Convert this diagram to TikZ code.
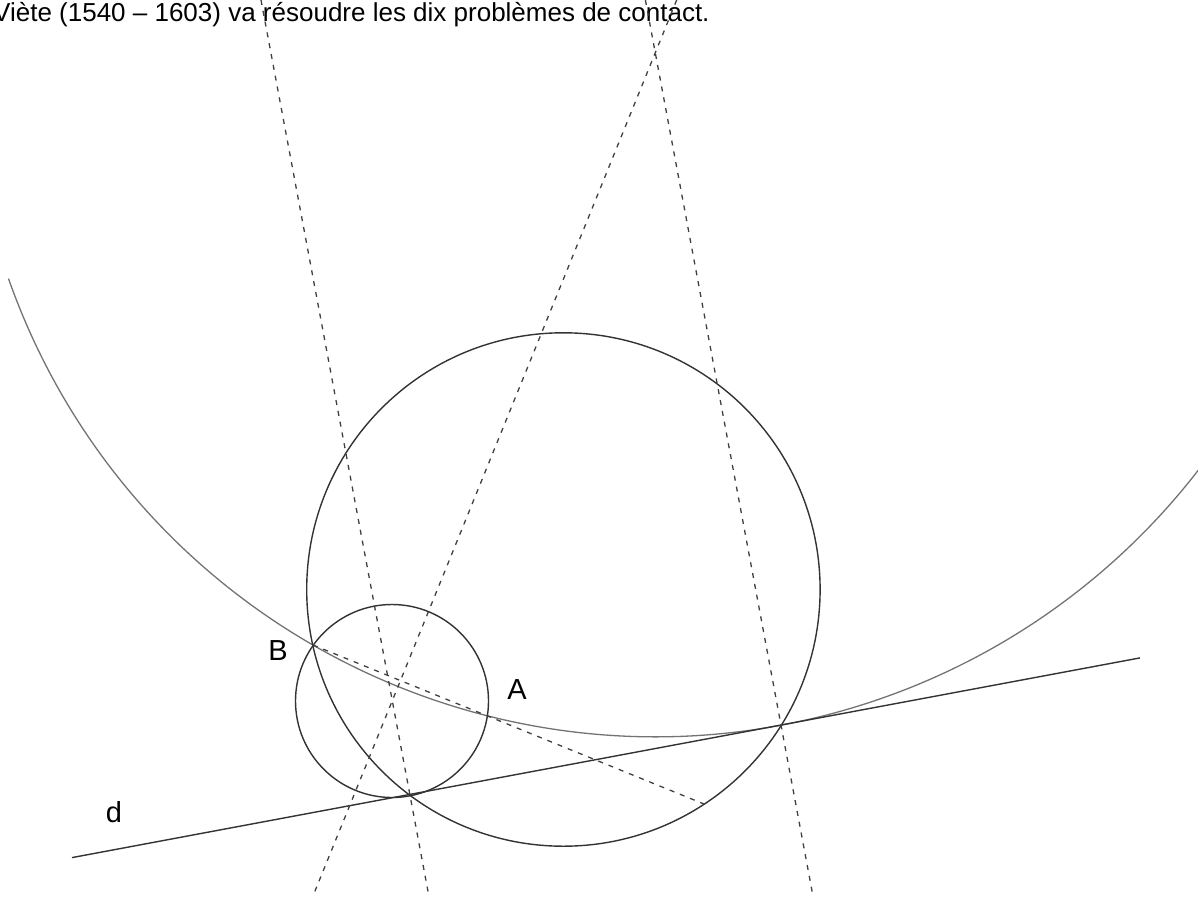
\documentclass[tikz,border=0pt]{standalone}
\usepackage{fontspec}
\setmainfont{Liberation Sans}
\begin{document}
\begin{tikzpicture}[x=1pt,y=-1pt,
  solidline/.style={line width=1.4pt, draw=black!80},
  arcline/.style={line width=1.3pt, draw=black!55},
  dashline/.style={line width=1.3pt, draw=black!75, dash pattern=on 5pt off 6pt},
  lab/.style={font=\fontsize{29}{32}\selectfont, inner sep=0pt},
  titletext/.style={font=\fontsize{26}{30}\selectfont, inner sep=0pt, anchor=base west}]
\useasboundingbox (0,0) rectangle (1198,896);
\clip (0,0) rectangle (1198,896);
% key points
\coordinate (B) at (313,645);
\coordinate (A) at (488,716);
\coordinate (T) at (781,725);
\coordinate (P) at (410,795);
\coordinate (O) at (655.5,50.7);
\coordinate (K) at (392,701);
\coordinate (M) at (563.4,589.5);
\coordinate (E) at (704,804);
\coordinate (D1) at (72,857.6);
\coordinate (D2) at (1140,657.9);
\coordinate (L2a) at (261,0);
\coordinate (L2b) at (428.3,893);
\coordinate (L3a) at (645.4,0);
\coordinate (L3b) at (812.4,893);
\coordinate (L4a) at (676.7,0);
\coordinate (L4b) at (314.2,893);
% title
\node[titletext] (title) at (-7,22) {Viète (1540 – 1603) va résoudre les dix problèmes de contact.};
% big arc through A, B tangent at T
\draw[arcline] (O) ++(160.6:686) arc[start angle=160.6, end angle=37.7, radius=686];
% circles
\draw[solidline] (M) circle[radius=256.7];
\draw[solidline] (K) circle[radius=96.5];
% line d
\draw[solidline] (D1) -- (D2);
% dashed lines
\draw[dashline] (B) -- (E);
\draw[dashline] (L2a) -- (L2b);
\draw[dashline] (L3a) -- (L3b);
\draw[dashline] (L4a) -- (L4b);
% labels
\node[lab] (labB) at (278,651) {B};
\node[lab] (labA) at (517,690) {A};
\node[lab] (labd) at (114,812) {d};
\end{tikzpicture}
\end{document}
